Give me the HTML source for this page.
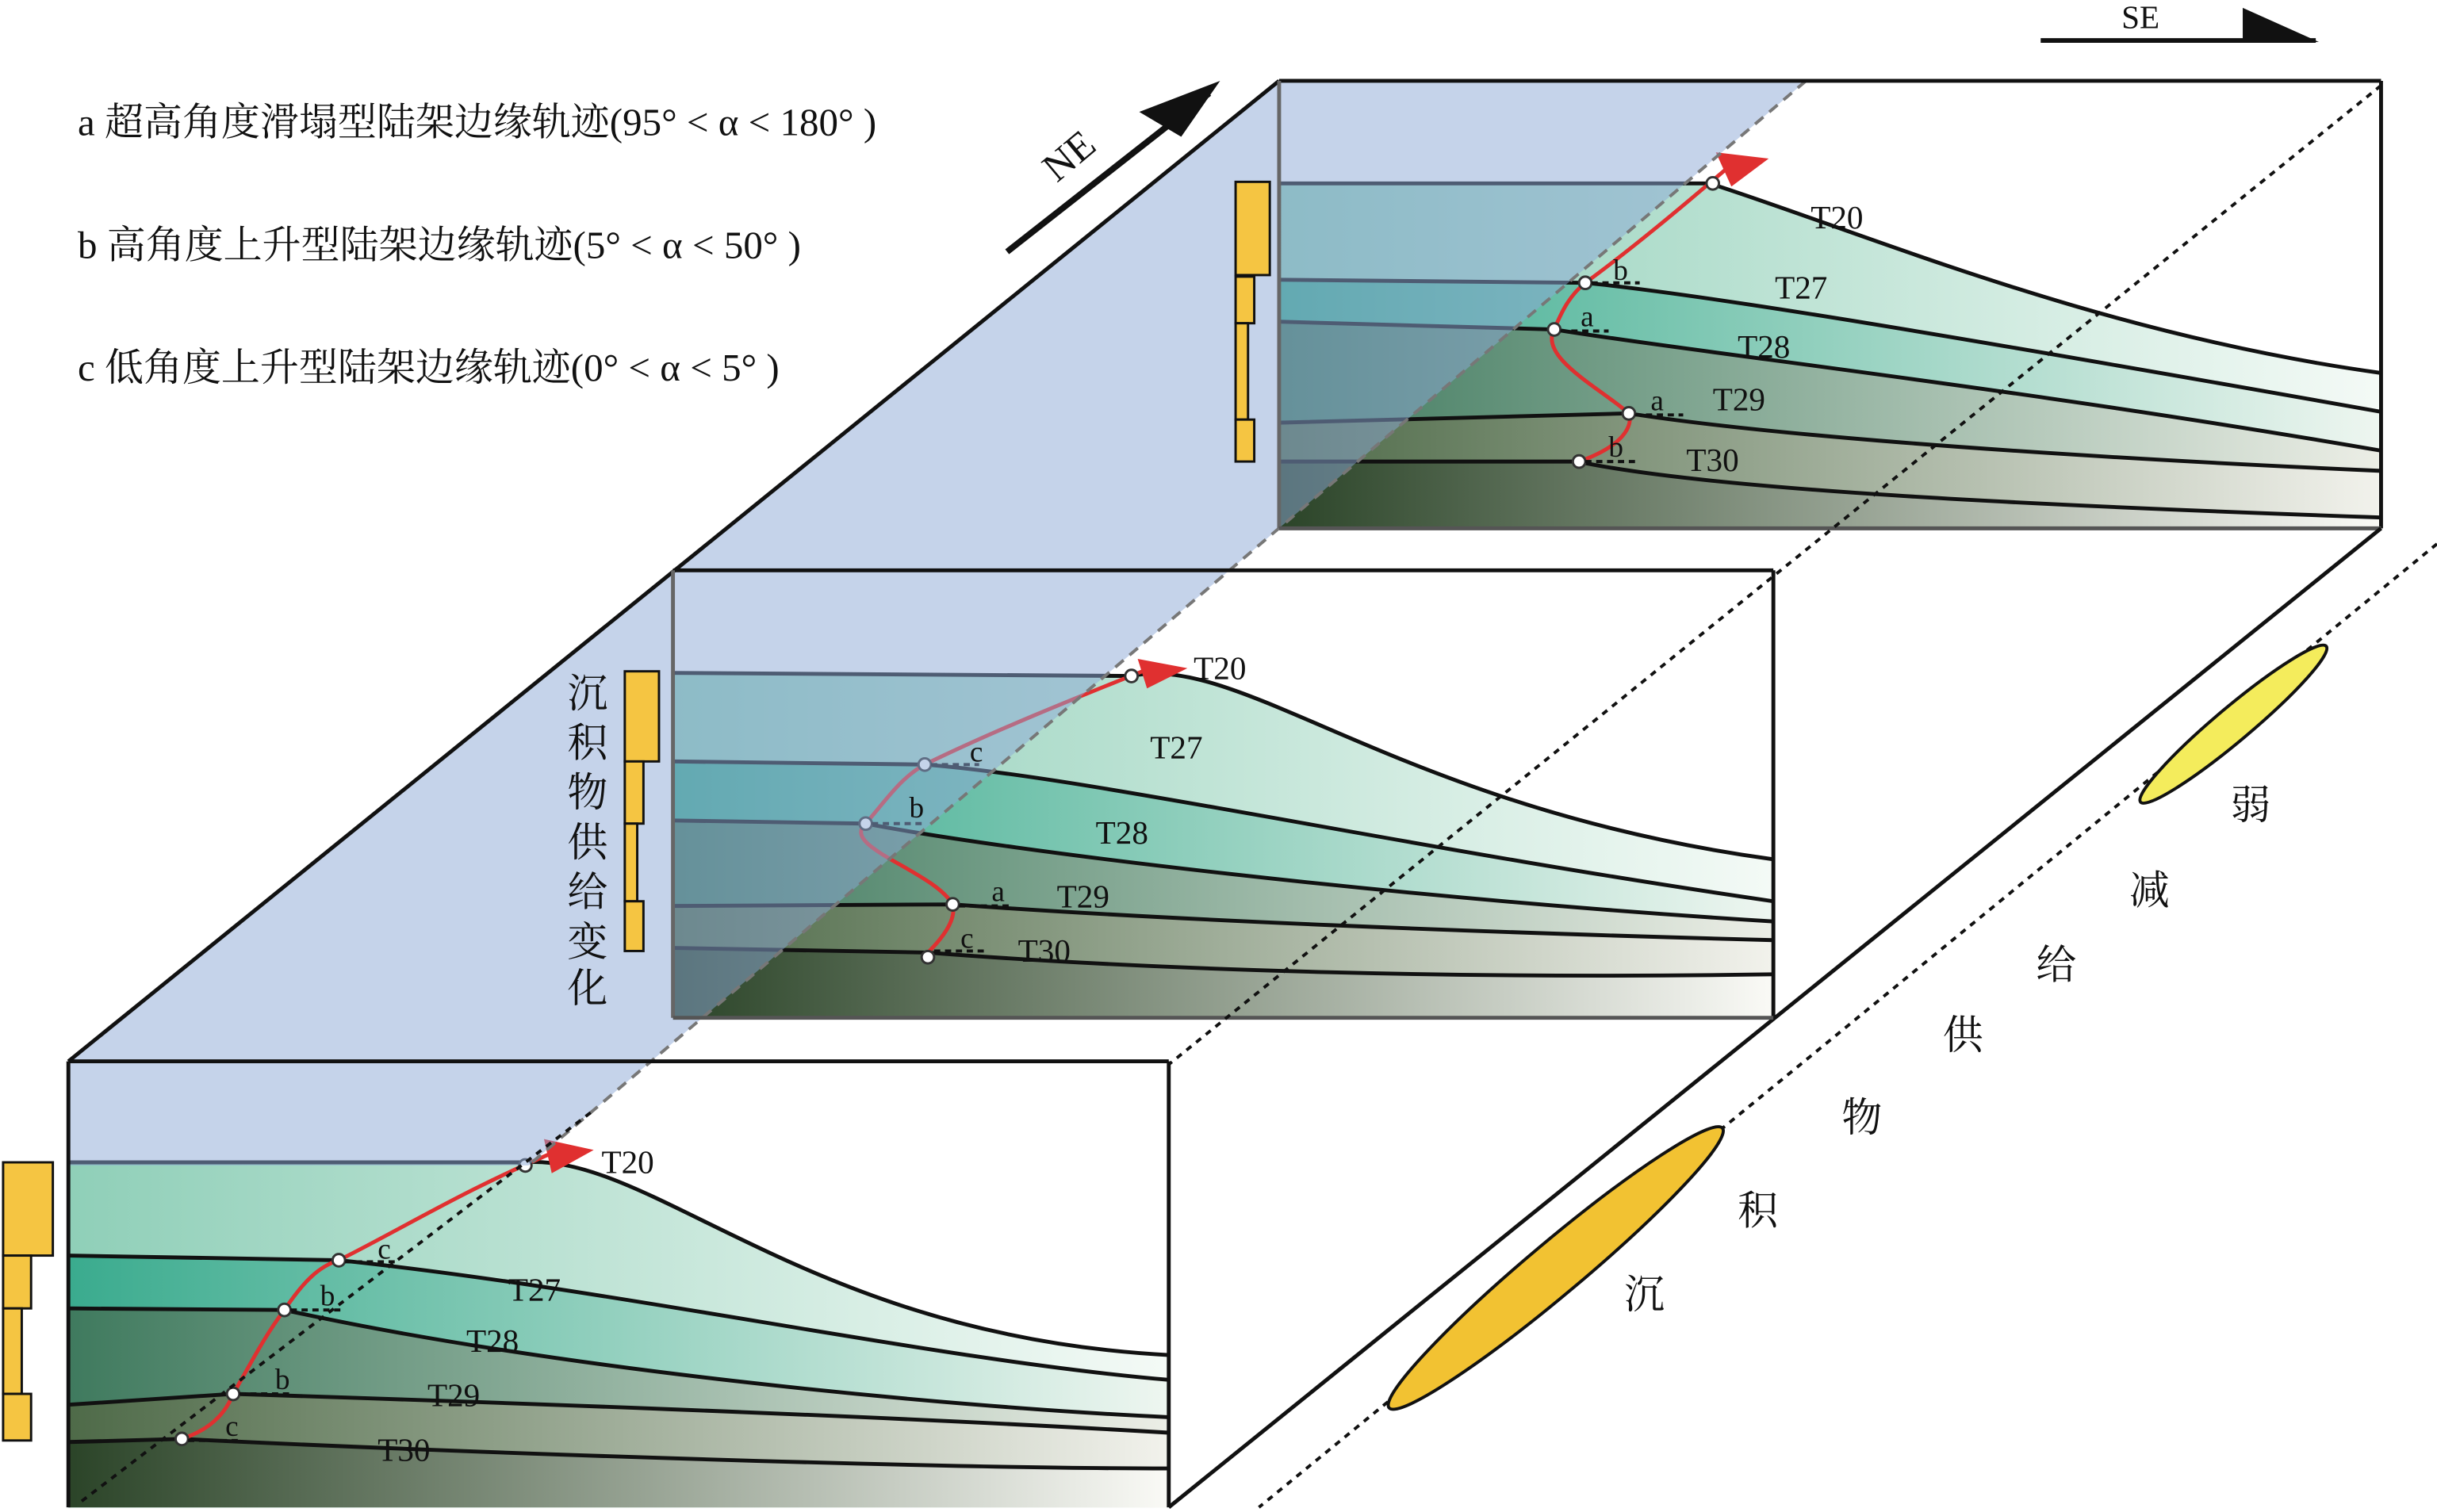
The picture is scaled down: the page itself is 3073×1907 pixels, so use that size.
<!DOCTYPE html>
<html><head><meta charset="utf-8"><style>
html,body{margin:0;padding:0;background:#fff}
svg{display:block}
text{font-family:"Liberation Serif","Noto Serif CJK SC",serif;fill:#111}
</style></head><body>
<svg width="3073" height="1907" viewBox="0 0 1568 973" xmlns="http://www.w3.org/2000/svg">
<defs>
<linearGradient id="g1" x1="0" x2="1"><stop offset="0" stop-color="#8fcfb8"/><stop offset="1" stop-color="#f4faf6"/></linearGradient>
<linearGradient id="g2" x1="0" x2="1"><stop offset="0" stop-color="#3aab8e"/><stop offset="1" stop-color="#eef6f0"/></linearGradient>
<linearGradient id="g3" x1="0" x2="1"><stop offset="0" stop-color="#3f7a5e"/><stop offset="1" stop-color="#eceee6"/></linearGradient>
<linearGradient id="g4" x1="0" x2="1"><stop offset="0" stop-color="#4e6a48"/><stop offset="1" stop-color="#f2f2ec"/></linearGradient>
<linearGradient id="g5" x1="0" x2="1"><stop offset="0" stop-color="#2b4428"/><stop offset="1" stop-color="#fafaf6"/></linearGradient>
</defs>

<!-- TOP PANEL -->
<rect x="823" y="52" width="709" height="288" fill="#fff"/>
<path d="M823,118 L1100,118 C1200,150 1350,215 1532,240 L1532,340 L823,340Z" fill="url(#g1)"/>
<path d="M823,180 L1020,182 C1100,190 1250,215 1532,265 L1532,340 L823,340Z" fill="url(#g2)"/>
<path d="M823,207 L1000,212 C1100,228 1300,250 1532,290 L1532,340 L823,340Z" fill="url(#g3)"/>
<path d="M823,272 L1048,266 C1150,282 1350,295 1532,303 L1532,340 L823,340Z" fill="url(#g4)"/>
<path d="M823,297 L1015,297 C1100,315 1300,325 1532,333 L1532,340 L823,340Z" fill="url(#g5)"/>
<g fill="none" stroke="#111" stroke-width="2.5">
<path d="M823,118 L1100,118 C1200,150 1350,215 1532,240"/>
<path d="M823,180 L1020,182 C1100,190 1250,215 1532,265"/>
<path d="M823,207 L1000,212 C1100,228 1300,250 1532,290"/>
<path d="M823,272 L1048,266 C1150,282 1350,295 1532,303"/>
<path d="M823,297 L1015,297 C1100,315 1300,325 1532,333"/>
</g>

<!-- MIDDLE PANEL -->
<rect x="433" y="367" width="708" height="288" fill="#fff"/>
<path d="M433,433 L728,435 C800,420 900,520 1141,553 L1141,655 L433,655Z" fill="url(#g1)"/>
<path d="M433,490 L595,492 C700,500 900,545 1141,580 L1141,655 L433,655Z" fill="url(#g2)"/>
<path d="M433,528 L557,530 C650,548 900,578 1141,593 L1141,655 L433,655Z" fill="url(#g3)"/>
<path d="M433,583 L613,582 C750,592 950,600 1141,605 L1141,655 L433,655Z" fill="url(#g4)"/>
<path d="M433,610 L597,613 C750,625 950,630 1141,627 L1141,655 L433,655Z" fill="url(#g5)"/>
<g fill="none" stroke="#111" stroke-width="2.5">
<path d="M433,433 L728,435 C800,420 900,520 1141,553"/>
<path d="M433,490 L595,492 C700,500 900,545 1141,580"/>
<path d="M433,528 L557,530 C650,548 900,578 1141,593"/>
<path d="M433,583 L613,582 C750,592 950,600 1141,605"/>
<path d="M433,610 L597,613 C750,625 950,630 1141,627"/>
</g>

<!-- BOTTOM PANEL -->
<rect x="44" y="683" width="708" height="287" fill="#fff"/>
<path d="M44,748 L338,748 C420,742 520,860 752,872 L752,970 L44,970Z" fill="url(#g1)"/>
<path d="M44,808 L218,811 C400,830 600,875 752,888 L752,970 L44,970Z" fill="url(#g2)"/>
<path d="M44,842 L183,843 C350,880 600,905 752,912 L752,970 L44,970Z" fill="url(#g3)"/>
<path d="M44,904 L150,897 C400,905 600,913 752,922 L752,970 L44,970Z" fill="url(#g4)"/>
<path d="M44,928 L117,926 C300,935 600,945 752,945 L752,970 L44,970Z" fill="url(#g5)"/>
<g fill="none" stroke="#111" stroke-width="2.5">
<path d="M44,748 L338,748 C420,742 520,860 752,872"/>
<path d="M44,808 L218,811 C400,830 600,875 752,888"/>
<path d="M44,842 L183,843 C350,880 600,905 752,912"/>
<path d="M44,904 L150,897 C400,905 600,913 752,922"/>
<path d="M44,928 L117,926 C300,935 600,945 752,945"/>
</g>

<!-- red trajectories -->
<g fill="none" stroke="#e03030" stroke-width="2.5">
<path d="M1016,297 C1050,285 1050,270 1048,266 C1030,250 990,230 1000,212 C1005,200 1010,190 1020,182 C1050,160 1080,135 1115,105"/>
<path d="M597,613 C610,600 615,590 613,582 C600,560 540,545 557,530 C570,515 580,500 595,492 C640,470 690,450 745,428"/>
<path d="M117,926 C135,920 145,910 150,897 C160,880 170,860 183,843 C195,825 205,815 218,811 C260,790 300,765 360,740"/>
</g>
<g fill="#e03030">
<polygon points="1104,98 1138,102 1114,120"/>
<polygon points="732,424 764,430 738,443"/>
<polygon points="350,733 382,740 355,755"/>
</g>
<g fill="#fff" stroke="#333" stroke-width="1.5">
<circle cx="1102" cy="118" r="4"/><circle cx="1020" cy="182" r="4"/><circle cx="1000" cy="212" r="4"/><circle cx="1048" cy="266" r="4"/><circle cx="1016" cy="297" r="4"/>
<circle cx="728" cy="435" r="4"/><circle cx="595" cy="492" r="4"/><circle cx="557" cy="530" r="4"/><circle cx="613" cy="582" r="4"/><circle cx="597" cy="616" r="4"/>
<circle cx="338" cy="750" r="4"/><circle cx="218" cy="811" r="4"/><circle cx="183" cy="843" r="4"/><circle cx="150" cy="897" r="4"/><circle cx="117" cy="926" r="4"/>
</g>
<g stroke="#111" stroke-width="2" stroke-dasharray="4,3">
<line x1="1024" y1="182" x2="1055" y2="182"/><line x1="1004" y1="213" x2="1035" y2="213"/><line x1="1052" y1="267" x2="1083" y2="267"/><line x1="1020" y1="297" x2="1055" y2="297"/>
<line x1="599" y1="492" x2="630" y2="492"/><line x1="561" y1="530" x2="595" y2="530"/><line x1="617" y1="583" x2="652" y2="583"/><line x1="601" y1="612" x2="633" y2="612"/>
<line x1="222" y1="812" x2="256" y2="812"/><line x1="187" y1="843" x2="220" y2="843"/><line x1="154" y1="897" x2="188" y2="897"/><line x1="121" y1="927" x2="155" y2="927"/>
</g>

<!-- blue plane -->
<polygon points="44,683 823,52 1162,52 340,750 44,750" fill="rgb(140,168,214)" fill-opacity="0.5"/>
<line x1="1162" y1="52" x2="340" y2="750" stroke="#777" stroke-width="2" stroke-dasharray="7,5"/>
<line x1="380" y1="716" x2="50" y2="968" stroke="#111" stroke-width="2" stroke-dasharray="4,4"/>

<!-- outlines -->
<g fill="none" stroke="#111" stroke-width="2.5">
<line x1="44" y1="683" x2="823" y2="52"/>
<line x1="823" y1="52" x2="1532" y2="52"/>
<line x1="1532" y1="52" x2="1532" y2="340"/>
<line x1="823" y1="52" x2="823" y2="340" stroke="#666"/>
<line x1="823" y1="340" x2="1532" y2="340" stroke="#555"/>
<line x1="1532" y1="340" x2="752" y2="970"/>
<line x1="433" y1="367" x2="1141" y2="367"/>
<line x1="1141" y1="367" x2="1141" y2="655"/>
<line x1="433" y1="367" x2="433" y2="655" stroke="#666"/>
<line x1="433" y1="655" x2="1141" y2="655" stroke="#555"/>
<line x1="44" y1="683" x2="752" y2="683"/>
<line x1="752" y1="683" x2="752" y2="970"/>
<line x1="44" y1="683" x2="44" y2="970"/>
</g>
<g stroke="#111" stroke-width="2" stroke-dasharray="4,4">
<line x1="1532" y1="55" x2="752" y2="685"/>
<line x1="1568" y1="350" x2="810" y2="970"/>
</g>

<!-- yellow bars -->
<g fill="#f5c542" stroke="#111" stroke-width="1.5">
<rect x="795" y="117" width="22" height="60"/><rect x="795" y="178" width="12" height="30"/><rect x="795" y="208" width="8" height="62"/><rect x="795" y="270" width="12" height="27"/>
<rect x="402" y="432" width="22" height="58"/><rect x="402" y="490" width="12" height="40"/><rect x="402" y="530" width="8" height="50"/><rect x="402" y="580" width="12" height="32"/>
<rect x="2" y="748" width="32" height="60"/><rect x="2" y="808" width="18" height="34"/><rect x="2" y="842" width="12" height="55"/><rect x="2" y="897" width="18" height="30"/>
</g>

<!-- ellipses -->
<ellipse cx="1437" cy="466" rx="78" ry="11" transform="rotate(-40 1437 466)" fill="#f4ec5c" stroke="#111" stroke-width="2"/>
<ellipse cx="1001" cy="816" rx="140" ry="17" transform="rotate(-40 1001 816)" fill="#f2c232" stroke="#111" stroke-width="2"/>

<!-- arrows -->
<line x1="648" y1="162" x2="778" y2="60" stroke="#111" stroke-width="4"/>
<polygon points="733,72 785,52 760,88" fill="#111"/>
<text x="680" y="118" font-size="26" transform="rotate(-40 680 118)">NE</text>
<line x1="1313" y1="26" x2="1490" y2="26" stroke="#111" stroke-width="3"/>
<polygon points="1443,5 1492,27 1443,27" fill="#111"/>
<text x="1365" y="18" font-size="21">SE</text>

<!-- legend -->
<g font-size="25">
<text x="50" y="87">a 超高角度滑塌型陆架边缘轨迹(95° &lt; α &lt; 180° )</text>
<text x="50" y="166">b 高角度上升型陆架边缘轨迹(5° &lt; α &lt; 50° )</text>
<text x="50" y="245">c 低角度上升型陆架边缘轨迹(0° &lt; α &lt; 5° )</text>
</g>
<g font-size="26">
<text x="365" y="455">沉</text><text x="365" y="487">积</text><text x="365" y="519">物</text><text x="365" y="551">供</text><text x="365" y="583">给</text><text x="365" y="615">变</text><text x="365" y="645">化</text>
</g>
<g font-size="26">
<text x="1435" y="527">弱</text><text x="1370" y="582">减</text><text x="1310" y="630">给</text><text x="1250" y="675">供</text><text x="1185" y="728">物</text><text x="1118" y="788">积</text><text x="1045" y="842">沉</text>
</g>

<!-- stratum labels -->
<g font-size="21">
<text x="1165" y="147">T20</text><text x="1142" y="192">T27</text><text x="1118" y="230">T28</text><text x="1102" y="264">T29</text><text x="1085" y="303">T30</text>
<text x="768" y="437">T20</text><text x="740" y="488">T27</text><text x="705" y="543">T28</text><text x="680" y="584">T29</text><text x="655" y="619">T30</text>
<text x="387" y="755">T20</text><text x="327" y="837">T27</text><text x="300" y="870">T28</text><text x="275" y="905">T29</text><text x="243" y="940">T30</text>
</g>
<g font-size="19">
<text x="1038" y="180">b</text><text x="1017" y="210">a</text><text x="1062" y="264">a</text><text x="1035" y="294">b</text>
<text x="624" y="490">c</text><text x="585" y="526">b</text><text x="638" y="580">a</text><text x="618" y="610">c</text>
<text x="243" y="810">c</text><text x="206" y="840">b</text><text x="177" y="894">b</text><text x="145" y="924">c</text>
</g>
</svg>
</body></html>
